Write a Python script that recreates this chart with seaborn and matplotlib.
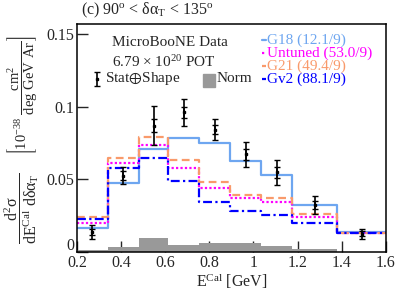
import numpy as np
import pandas as pd
import matplotlib
matplotlib.use("Agg")
import matplotlib.pyplot as plt
import matplotlib.transforms as mtransforms
import seaborn as sns

# bin edges in E^Cal [GeV]
edges = [0.2, 0.34, 0.48, 0.615, 0.755, 0.895, 1.035, 1.175, 1.38, 1.6]

# data points
data_vals = [0.0137, 0.0525, 0.087, 0.096, 0.0842, 0.0671, 0.0547, 0.0324, 0.0126]
err_tot = [0.0045, 0.006, 0.0133, 0.0095, 0.007, 0.0085, 0.0088, 0.0064, 0.0034]
err_stat = [0.002, 0.003, 0.0045, 0.004, 0.003, 0.0035, 0.0035, 0.003, 0.0015]

# generator predictions
g18 = [0.0162, 0.0475, 0.0707, 0.0784, 0.0752, 0.0628, 0.0532, 0.0324, 0.0135]
untuned = [0.0198, 0.061, 0.0739, 0.0581, 0.0441, 0.037, 0.0345, 0.0239, 0.0128]
g21 = [0.024, 0.0644, 0.079, 0.0633, 0.0482, 0.039, 0.037, 0.0261, 0.0128]
gv2 = [0.0228, 0.0577, 0.0644, 0.0491, 0.0345, 0.0284, 0.0255, 0.0198, 0.0128]

# normalisation uncertainty
norm = [0.001, 0.0036, 0.0097, 0.0047, 0.0059, 0.0059, 0.0043, 0.002, 0.0]

models = [
    ("G18 (12.1/9)", g18, "#6ea6f0", "-"),
    ("Untuned (53.0/9)", untuned, "#ff00ff", (0, (1, 1))),
    ("G21 (49.4/9)", g21, "#f99a6b", (0, (3.5, 2))),
    ("Gv2 (88.1/9)", gv2, "#0000ff", (0, (4, 1.5, 1, 1.5))),
]

centers = [(a + b) / 2 for a, b in zip(edges[:-1], edges[1:])]

sns.set_style("ticks")
plt.rcParams["font.family"] = ["Liberation Serif", "DejaVu Serif"]
plt.rcParams["mathtext.fontset"] = "custom"
plt.rcParams["mathtext.rm"] = "Liberation Serif"
plt.rcParams["mathtext.it"] = "Liberation Serif"
plt.rcParams["mathtext.bf"] = "Liberation Serif"
plt.rcParams["mathtext.fallback"] = "stix"

fig = plt.figure(figsize=(4.07, 2.95), dpi=100)
ax = fig.add_axes([0.189, 0.146, 0.759, 0.773])

# Norm band at the bottom
sns.histplot(x=centers, weights=norm, bins=edges, element="step", fill=True,
             color="#999999", alpha=1, linewidth=0, ax=ax)

for label, vals, col, ls in models:
    sns.histplot(x=centers, weights=vals, bins=edges, element="step", fill=False,
                 color=col, linestyle=ls, linewidth=1.6, ax=ax)

ax.errorbar(centers, data_vals, yerr=err_tot, fmt="s", ms=2, color="black",
            ecolor="black", elinewidth=1.2, capsize=2, capthick=1.0, zorder=5)
ax.errorbar(centers, data_vals, yerr=err_stat, fmt="none", ecolor="black",
            elinewidth=1.2, capsize=2, capthick=1.0, zorder=5)

ax.set_xlim(0.2, 1.6)
ax.set_ylim(0, 0.157)
ax.set_xticks([0.2, 0.4, 0.6, 0.8, 1.0, 1.2, 1.4, 1.6])
ax.set_xticklabels(["0.2", "0.4", "0.6", "0.8", "1", "1.2", "1.4", "1.6"])
ax.set_yticks([0, 0.05, 0.1, 0.15])
ax.set_yticklabels(["0", "0.05", "0.1", "0.15"])
ax.tick_params(direction="in", length=8, width=1, labelsize=11.5, pad=2,
               top=False, right=False)
# ROOT nudges the "0" label up off the corner
lab0 = ax.get_yticklabels()[0]
lab0.set_transform(lab0.get_transform() + mtransforms.ScaledTranslation(0, 8 / 100, fig.dpi_scale_trans))
for s in ax.spines.values():
    s.set_visible(True)
    s.set_linewidth(1.1)
    s.set_color("black")

ax.set_xlabel(r"E$^{\mathrm{Cal}}$ [GeV]", fontsize=11.5, labelpad=0)
ax.set_ylabel("")
# y title in two pieces, like the ROOT TLatex
fig.text(0.054, 0.292,
         r"$\dfrac{\mathrm{d}^{2}\sigma}{\mathrm{dE}^{\mathrm{Cal}}\ \mathrm{d}\delta\alpha_{\mathrm{T}}}$",
         rotation=90, fontsize=11.5, ha="center", va="center")
fig.text(0.054, 0.678,
         r"$\left[10^{-38}\ \dfrac{\mathrm{cm}^{2}}{\mathrm{deg\ GeV\ Ar}}\right]$",
         rotation=90, fontsize=10.5, ha="center", va="center")

fig.text(0.2, 0.965, r"(c) 90$^{\mathrm{o}}$ < $\delta\alpha_{\mathrm{T}}$ < 135$^{\mathrm{o}}$",
         fontsize=11.5, ha="left", va="center")

ax.text(0.113, 0.917, "MicroBooNE Data", transform=ax.transAxes, fontsize=11, va="center")
ax.text(0.113, 0.833, r"6.79 $\times$ 10$^{20}$ POT", transform=ax.transAxes, fontsize=11, va="center")
ax.errorbar([0.065], [0.759], yerr=[0.03], fmt="s", ms=2, color="black", capsize=2,
            elinewidth=1.2, transform=ax.transAxes, clip_on=False)
ax.text(0.09, 0.759, r"Stat$\oplus$Shape", transform=ax.transAxes, fontsize=11, va="center")
ax.add_patch(plt.Rectangle((0.408, 0.725), 0.04, 0.055, color="#999999",
                           transform=ax.transAxes))
ax.text(0.452, 0.759, "Norm", transform=ax.transAxes, fontsize=11, va="center")

ys = [0.93, 0.873, 0.816, 0.759]
for (label, vals, col, ls), y in zip(models, ys):
    ax.plot([0.598, 0.612], [y, y], color=col, linestyle=ls, linewidth=1.6,
            transform=ax.transAxes)
    ax.text(0.614, y, label, color=col, transform=ax.transAxes, fontsize=11, va="center")

fig.savefig("out.png", dpi=100)
